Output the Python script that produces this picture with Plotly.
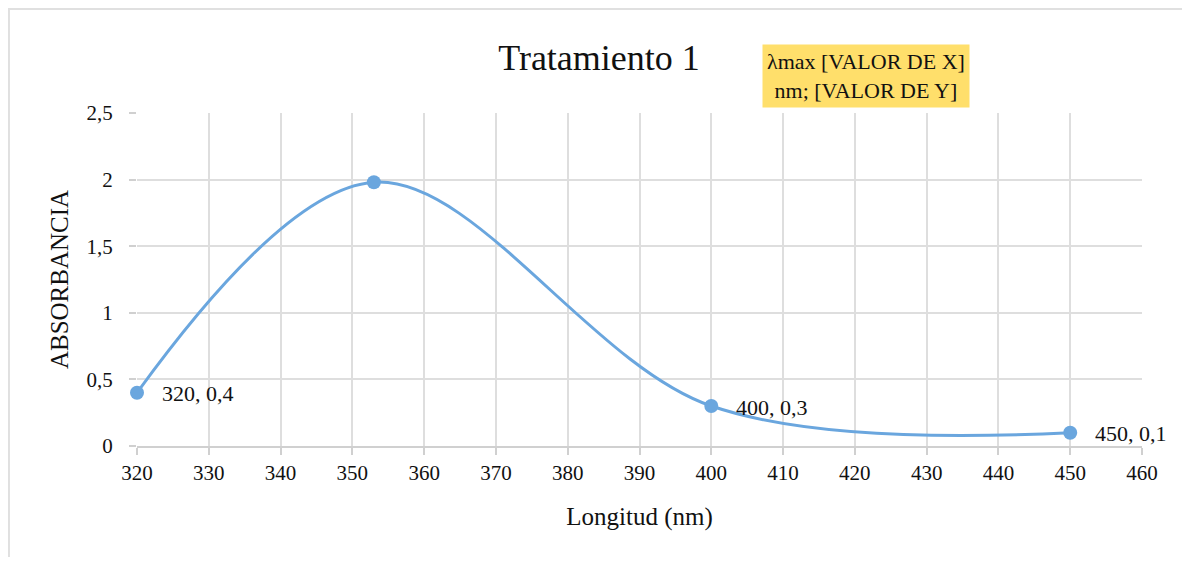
import plotly.graph_objects as go

# datos
longitud = [320, 353, 400, 450]
absorbancia = [0.4, 1.98, 0.3, 0.1]
etiquetas = ["320, 0,4", "", "400, 0,3", "450, 0,1"]
x_ticks = list(range(320, 461, 10))
y_ticks = [0, 0.5, 1, 1.5, 2, 2.5]
y_tick_labels = ["0", "0,5", "1", "1,5", "2", "2,5"]
etiqueta_max = "λmax [VALOR DE X]<br>nm; [VALOR DE Y]"

serif = "Liberation Serif, Times New Roman, serif"
blue = "#6aa6de"
grid = "#dedede"
W, H = 1174, 549  # la página añade 8 px de margen

fig = go.Figure()
fig.add_trace(go.Scatter(
    x=longitud, y=absorbancia,
    mode="lines+markers",
    line=dict(color=blue, width=3, shape="spline", smoothing=1.0),
    marker=dict(color=blue, size=14),
    hoverinfo="x+y",
    showlegend=False,
    cliponaxis=False,
))

# etiquetas de datos
for xv, yv, t in zip(longitud, absorbancia, etiquetas):
    if t:
        fig.add_annotation(x=xv, y=yv, text=t, showarrow=False,
                           xanchor="left", yanchor="middle", xshift=23, yshift=-1,
                           font=dict(family=serif, size=22, color="#111"))

# etiqueta del máximo (caja amarilla)
fig.add_annotation(x=0.7254, y=1.111, xref="paper", yref="paper",
                   text=etiqueta_max, showarrow=False,
                   xanchor="center", yanchor="middle",
                   bgcolor="#ffdf6b", borderpad=4,
                   font=dict(family=serif, size=22, color="#111"))

# marco del gráfico
fig.add_shape(type="path", xref="paper", yref="paper",
              path="M -0.1274,-0.5 L -0.1274,1.3123 L 1.1,1.3123",
              line=dict(color="#e0e0e0", width=2))

fig.update_layout(
    width=W, height=H,
    margin=dict(l=129, r=40, t=105, b=111),
    paper_bgcolor="white", plot_bgcolor="white",
    separators=",.",
    title=dict(text="Tratamiento 1", x=591 / W, xanchor="center",
               y=1 - 49 / H, yanchor="middle",
               font=dict(family=serif, size=36, color="#111")),
    font=dict(family=serif, color="#111"),
)

fig.update_xaxes(
    range=[320, 460], tickvals=x_ticks,
    showgrid=True, gridcolor=grid, gridwidth=2,
    showline=True, linecolor="#d0d0d0", linewidth=2,
    ticks="outside", ticklen=7, tickcolor="#d0d0d0", tickwidth=2,
    tickfont=dict(family=serif, size=21, color="#111"),
    title=dict(text="Longitud (nm)", font=dict(family=serif, size=25, color="#111"), standoff=23),
    zeroline=False,
)
fig.update_yaxes(
    range=[0, 2.5], tickvals=y_ticks, ticktext=y_tick_labels,
    showgrid=True, gridcolor=grid, gridwidth=2,
    showline=False,
    ticks="outside", ticklen=7, tickcolor="#d0d0d0", tickwidth=2,
    ticklabelstandoff=12,
    tickfont=dict(family=serif, size=21, color="#111"),
    title=dict(text="ABSORBANCIA", font=dict(family=serif, size=25, color="#111"), standoff=10),
    zeroline=False,
)

fig.write_html("out.html")
